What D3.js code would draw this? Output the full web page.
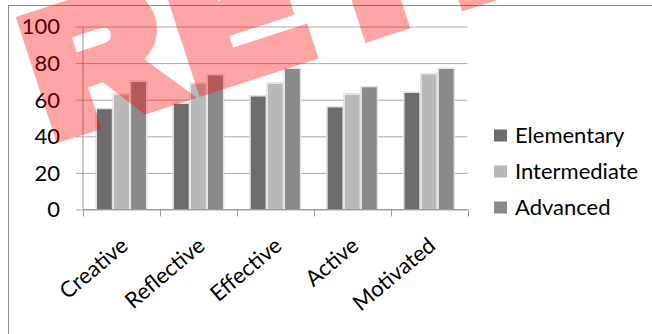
<!DOCTYPE html>
<html>
<head>
<meta charset="utf-8">
<script src="https://cdn.jsdelivr.net/npm/d3@7/dist/d3.min.js"></script>
<style>
  html, body { margin: 0; padding: 0; background: #fff; }
  svg { display: block; }
</style>
</head>
<body>
<svg id="chart" width="652" height="334"></svg>
<script>
const categories = ["Creative", "Reflective", "Effective", "Active", "Motivated"];
const seriesNames = ["Elementary", "Intermediate", "Advanced"];
const elementary = [55, 58, 62, 56, 64];
const intermediate = [63, 69, 69, 63, 74];
const advanced = [70, 73.5, 77, 67, 77];
const yTicks = [0, 20, 40, 60, 80, 100];
const watermarkText = "RETRACTED";

const seriesValues = [elementary, intermediate, advanced];
const colors = ["#6c6c6c", "#b9b9b9", "#8a8a8a"];
const FONT = "Lato, 'Open Sans', sans-serif";

const svg = d3.select("#chart");

svg.append("rect")
  .attr("x", 8.5).attr("y", 5.5)
  .attr("width", 800).attr("height", 500)
  .attr("fill", "none").attr("stroke", "#8c8c8c").attr("stroke-width", 1);

const plot = { left: 83, right: 467.5, top: 26.5, bottom: 209.5 };

const x0 = d3.scaleBand()
  .domain(categories)
  .range([plot.left, plot.right])
  .paddingInner(0.35)
  .paddingOuter(0.175);

const x1 = d3.scaleBand()
  .domain(seriesNames)
  .range([0, x0.bandwidth()])
  .paddingInner(0.08);

const y = d3.scaleLinear().domain([0, 100]).range([plot.bottom, plot.top]);

const yAxis = d3.axisLeft(y)
  .tickValues(yTicks)
  .tickSize(-(plot.right - plot.left) - 7)
  .tickFormat("");

const gy = svg.append("g")
  .attr("transform", `translate(${plot.right},0)`)
  .call(yAxis);
gy.select(".domain").remove();
gy.selectAll(".tick line")
  .attr("stroke", "#ababab")
  .attr("x1", 0)
  .attr("x2", -(plot.right - plot.left) - 7);

svg.append("g").selectAll("text")
  .data(yTicks)
  .join("text")
  .attr("x", 60)
  .attr("y", d => y(d))
  .attr("dy", "0.36em")
  .attr("text-anchor", "end")
  .attr("font-family", FONT)
  .attr("font-size", 22)
  .attr("fill", "#000")
  .text(d => d);

svg.append("line")
  .attr("x1", plot.left).attr("x2", plot.left)
  .attr("y1", plot.top).attr("y2", plot.bottom)
  .attr("stroke", "#9a9a9a");

const groups = svg.append("g").selectAll("g")
  .data(categories)
  .join("g")
  .attr("transform", d => `translate(${x0(d)},0)`);

const cells = (c, i) => seriesNames.map((s, j) => ({ s, v: seriesValues[j][i], j }));

groups.selectAll("rect.shadow")
  .data(cells)
  .join("rect")
  .attr("class", "shadow")
  .attr("x", d => x1(d.s) - 1)
  .attr("y", d => y(d.v) - 1)
  .attr("width", x1.bandwidth() + 2)
  .attr("height", d => y(0) - y(d.v) + 1)
  .attr("fill", "#d8d8d8");

groups.selectAll("rect.bar")
  .data(cells)
  .join("rect")
  .attr("class", "bar")
  .attr("x", d => x1(d.s))
  .attr("y", d => y(d.v))
  .attr("width", x1.bandwidth())
  .attr("height", d => y(0) - y(d.v))
  .attr("fill", d => colors[d.j])
  .attr("stroke", "#f4f4f4")
  .attr("stroke-width", 0.8);

svg.append("line")
  .attr("x1", plot.left).attr("x2", plot.right)
  .attr("y1", plot.bottom).attr("y2", plot.bottom)
  .attr("stroke", "#9a9a9a");

const boundaries = categories.map(c => x0(c) - x0.step() * x0.paddingInner() / 2);
boundaries.push(plot.right);
svg.append("g").selectAll("line")
  .data(boundaries)
  .join("line")
  .attr("x1", d => Math.round(d) + 0.5).attr("x2", d => Math.round(d) + 0.5)
  .attr("y1", plot.bottom).attr("y2", plot.bottom + 7)
  .attr("stroke", "#9a9a9a");

svg.append("g").selectAll("text")
  .data(categories)
  .join("text")
  .attr("transform", d => `translate(${x0(d) + x0.bandwidth() / 2 + 8},248) rotate(-40)`)
  .attr("text-anchor", "end")
  .attr("font-family", FONT)
  .attr("font-size", 22)
  .attr("fill", "#000")
  .text(d => d);

const legend = svg.append("g").selectAll("g")
  .data(seriesNames)
  .join("g")
  .attr("transform", (d, i) => `translate(494,${142.5 + i * 36})`);
legend.append("rect")
  .attr("x", 0).attr("y", -13)
  .attr("width", 13).attr("height", 12)
  .attr("fill", (d, i) => colors[i]);
legend.append("text")
  .attr("x", 21).attr("y", 0)
  .attr("font-family", FONT)
  .attr("font-size", 22)
  .attr("fill", "#000")
  .text(d => d);

// watermark: heavy, semi-transparent red, mostly outside the frame
svg.append("text")
  .attr("transform", "translate(55.2,134.4) rotate(-18) scale(1.12,1)")
  .attr("x", "-3.2 130.7 258.7 377.2")
  .attr("font-family", "'Liberation Sans', Arial, sans-serif")
  .attr("font-weight", "bold")
  .attr("font-size", 167)
  .attr("fill", "#ff0000")
  .attr("stroke", "#ff0000")
  .attr("stroke-width", 18)
  .attr("stroke-linejoin", "miter")
  .attr("opacity", 0.35)
  .text(watermarkText);
</script>
</body>
</html>
